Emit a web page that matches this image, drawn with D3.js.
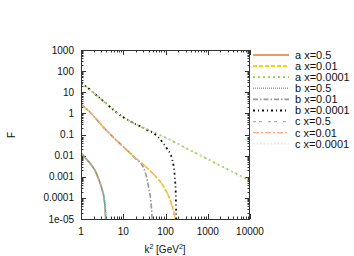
<!DOCTYPE html>
<html><head><meta charset="utf-8">
<script src="https://cdn.jsdelivr.net/npm/d3@7"></script>
<style>body{margin:0;background:#fff}svg{display:block;font-family:"Liberation Sans",Arial,sans-serif}</style>
</head><body><svg id="c" width="354" height="256"></svg>
<script>
// ---- data ----
const xTicks = [1, 10, 100, 1000, 10000];
const xTickLabels = ["1", "10", "100", "1000", "10000"];
const yTicks = [1000, 100, 10, 1, 0.1, 0.01, 0.001, 0.0001, 1e-5];
const yTickLabels = ["1000", "100", "10", "1", "0.1", "0.01", "0.001", "0.0001", "1e-05"];

// x = 0.5 group
const k2_x05  = [1, 1.26, 1.76, 2.24, 2.75, 3.16, 3.51, 3.72, 3.85];
const F_a_x05 = [0.0138, 0.0079, 0.0036, 0.00166, 0.00059, 0.00025, 0.000095, 0.000032, 0.0000079];
const k2_bx05 = [1, 1.26, 1.76, 2.24, 2.75, 3.16, 3.55, 3.78, 3.92];
const F_b_x05 = [0.0138, 0.0079, 0.0036, 0.00166, 0.00059, 0.00025, 0.000095, 0.000032, 0.0000079];
const F_c_x05 = [0.0138, 0.0079, 0.0036, 0.00166, 0.00059, 0.00025, 0.000095, 0.000032, 0.0000079];

// x = 0.01 group
const k2_x001  = [1, 1.585, 2.51, 3.98, 6.31, 10, 17.8, 31.6, 56.2, 89.1, 126, 158, 174];
const F_a_x001 = [2.7, 1.2, 0.44, 0.158, 0.063, 0.0263, 0.0089, 0.0034, 0.00112, 0.000355, 0.000089, 0.00002, 0.0000079];
const k2_bx001 = [1, 1.585, 2.51, 3.98, 6.31, 10, 17.8, 20, 29.9, 35.5, 39.8, 44.7, 47.3, 48.4];
const F_b_x001 = [2.7, 1.2, 0.44, 0.158, 0.063, 0.0263, 0.0089, 0.0068, 0.0028, 0.001, 0.00032, 0.000079, 0.00002, 0.0000079];
const F_c_x001 = F_a_x001.slice();

// x = 0.0001 group
const k2_x1e4  = [1, 1.585, 2.51, 3.98, 6.31, 10, 17.8, 31.6, 56.2, 100, 316, 1000, 3162, 10000];
const F_a_x1e4 = [28, 14, 6.3, 2.9, 1.3, 0.66, 0.34, 0.195, 0.118, 0.071, 0.022, 0.0068, 0.0021, 0.00065];
const k2_bx1e4 = [1, 1.585, 2.51, 3.98, 6.31, 10, 17.8, 31.6, 39.8, 56.2, 89.1, 107, 145, 166, 176, 180];
const F_b_x1e4 = [28, 14, 6.3, 2.9, 1.3, 0.66, 0.34, 0.195, 0.15, 0.105, 0.038, 0.0224, 0.0062, 0.001, 0.0001, 0.0000063];
const F_c_x1e4 = F_a_x1e4.slice();

const seriesNames = ["a x=0.5", "a x=0.01", "a x=0.0001", "b x=0.5", "b x=0.01", "b x=0.0001", "c x=0.5", "c x=0.01", "c x=0.0001"];

const series = [
  {name: seriesNames[0], k: k2_x05,   f: F_a_x05,  color: "#e07a30", dash: null,        w: 1.6},
  {name: seriesNames[1], k: k2_x001,  f: F_a_x001, color: "#e6d000", dash: "4,2",       w: 1.6},
  {name: seriesNames[2], k: k2_x1e4,  f: F_a_x1e4, color: "#90d030", dash: "2,3",       w: 1.8},
  {name: seriesNames[3], k: k2_bx05,  f: F_b_x05,  color: "#40c0c0", dash: "1,1",       w: 1.6},
  {name: seriesNames[4], k: k2_bx001, f: F_b_x001, color: "#9a9a9a", dash: "5,2,1.5,2", w: 1.6},
  {name: seriesNames[5], k: k2_bx1e4, f: F_b_x1e4, color: "#111111", dash: "2,3,1,3",   w: 1.8},
  {name: seriesNames[6], k: k2_x05,   f: F_c_x05,  color: "#b0b0b0", dash: "3,3,3,6",   w: 1.2},
  {name: seriesNames[7], k: k2_x001,  f: F_c_x001, color: "#ffa585", dash: "6,2,2,2",   w: 1.2},
  {name: seriesNames[8], k: k2_x1e4,  f: F_c_x1e4, color: "#dddddd", dash: "1.5,2",     w: 1.2}
];

// ---- layout ----
const svg = d3.select("#c");
const L = 81, R = 250, T = 50, B = 219;
const x = d3.scaleLog().domain([1, 10000]).range([L, R]);
const y = d3.scaleLog().domain([1e-5, 1000]).range([B, T]);

svg.append("clipPath").attr("id", "clip").append("rect")
  .attr("x", L).attr("y", T).attr("width", R - L).attr("height", B - T + 0.5);

// minor ticks
const ax = "#333";
const minorX = [], minorY = [];
for (let d = 1; d < 10000; d *= 10) for (let m = 2; m <= 9; m++) minorX.push(d * m);
for (let d = 1e-5; d < 999; d *= 10) for (let m = 2; m <= 9; m++) minorY.push(d * m);
const g = svg.append("g").attr("stroke", ax).attr("stroke-width", 1);
minorX.forEach(v => {
  const px = Math.round(x(v)) + 0.5;
  g.append("line").attr("x1", px).attr("x2", px).attr("y1", B).attr("y2", B - 2.5);
  g.append("line").attr("x1", px).attr("x2", px).attr("y1", T).attr("y2", T + 2.5);
});
minorY.forEach(v => {
  const py = Math.round(y(v)) + 0.5;
  g.append("line").attr("y1", py).attr("y2", py).attr("x1", L).attr("x2", L + 2.5);
  g.append("line").attr("y1", py).attr("y2", py).attr("x1", R).attr("x2", R - 2.5);
});
xTicks.forEach(v => {
  const px = Math.round(x(v)) + 0.5;
  g.append("line").attr("x1", px).attr("x2", px).attr("y1", B).attr("y2", B - 5);
  g.append("line").attr("x1", px).attr("x2", px).attr("y1", T).attr("y2", T + 5);
});
yTicks.forEach(v => {
  const py = Math.round(y(v)) + 0.5;
  g.append("line").attr("y1", py).attr("y2", py).attr("x1", L).attr("x2", L + 5);
  g.append("line").attr("y1", py).attr("y2", py).attr("x1", R).attr("x2", R - 5);
});

// curves
const line = d3.line().x(d => x(d[0])).y(d => y(d[1])).curve(d3.curveMonotoneX);
const plot = svg.append("g").attr("clip-path", "url(#clip)");
series.forEach(s => {
  const pts = s.k.map((k, i) => [k, s.f[i]]);
  plot.append("path").datum(pts).attr("d", line)
    .attr("fill", "none").attr("stroke", s.color).attr("stroke-width", s.w)
    .attr("stroke-dasharray", s.dash);
});

// frame
svg.append("rect").attr("x", L + 0.5).attr("y", T + 0.5).attr("width", R - L - 1).attr("height", B - T)
  .attr("fill", "none").attr("stroke", ax).attr("stroke-width", 1);

// tick labels
const fs = 10;
xTicks.forEach((v, i) => {
  svg.append("text").attr("x", x(v)).attr("y", 235).attr("text-anchor", "middle")
    .attr("font-size", fs).attr("fill", "#111").text(xTickLabels[i]);
});
yTicks.forEach((v, i) => {
  svg.append("text").attr("x", 74).attr("y", y(v) + 3.5).attr("text-anchor", "end")
    .attr("font-size", fs).attr("fill", "#111").text(yTickLabels[i]);
});

// axis titles
const xt = svg.append("text").attr("x", 165).attr("y", 253).attr("text-anchor", "middle")
  .attr("font-size", fs).attr("fill", "#111");
xt.append("tspan").text("k");
xt.append("tspan").attr("dy", -4).attr("font-size", 7).text("2");
xt.append("tspan").attr("dy", 4).text(" [GeV");
xt.append("tspan").attr("dy", -4).attr("font-size", 7).text("2");
xt.append("tspan").attr("dy", 4).text("]");
svg.append("text").attr("transform", "translate(15,135) rotate(-90)").attr("text-anchor", "middle")
  .attr("font-size", fs).attr("fill", "#111").text("F");

// legend
series.forEach((s, i) => {
  const ly = 55 + i * 11.1;
  svg.append("line").attr("x1", 253).attr("x2", 289).attr("y1", ly).attr("y2", ly)
    .attr("stroke", s.color).attr("stroke-width", s.w).attr("stroke-dasharray", s.dash);
  svg.append("text").attr("x", 295).attr("y", ly + 3.8).attr("font-size", 11).attr("fill", "#111").text(s.name);
});
</script></body></html>
